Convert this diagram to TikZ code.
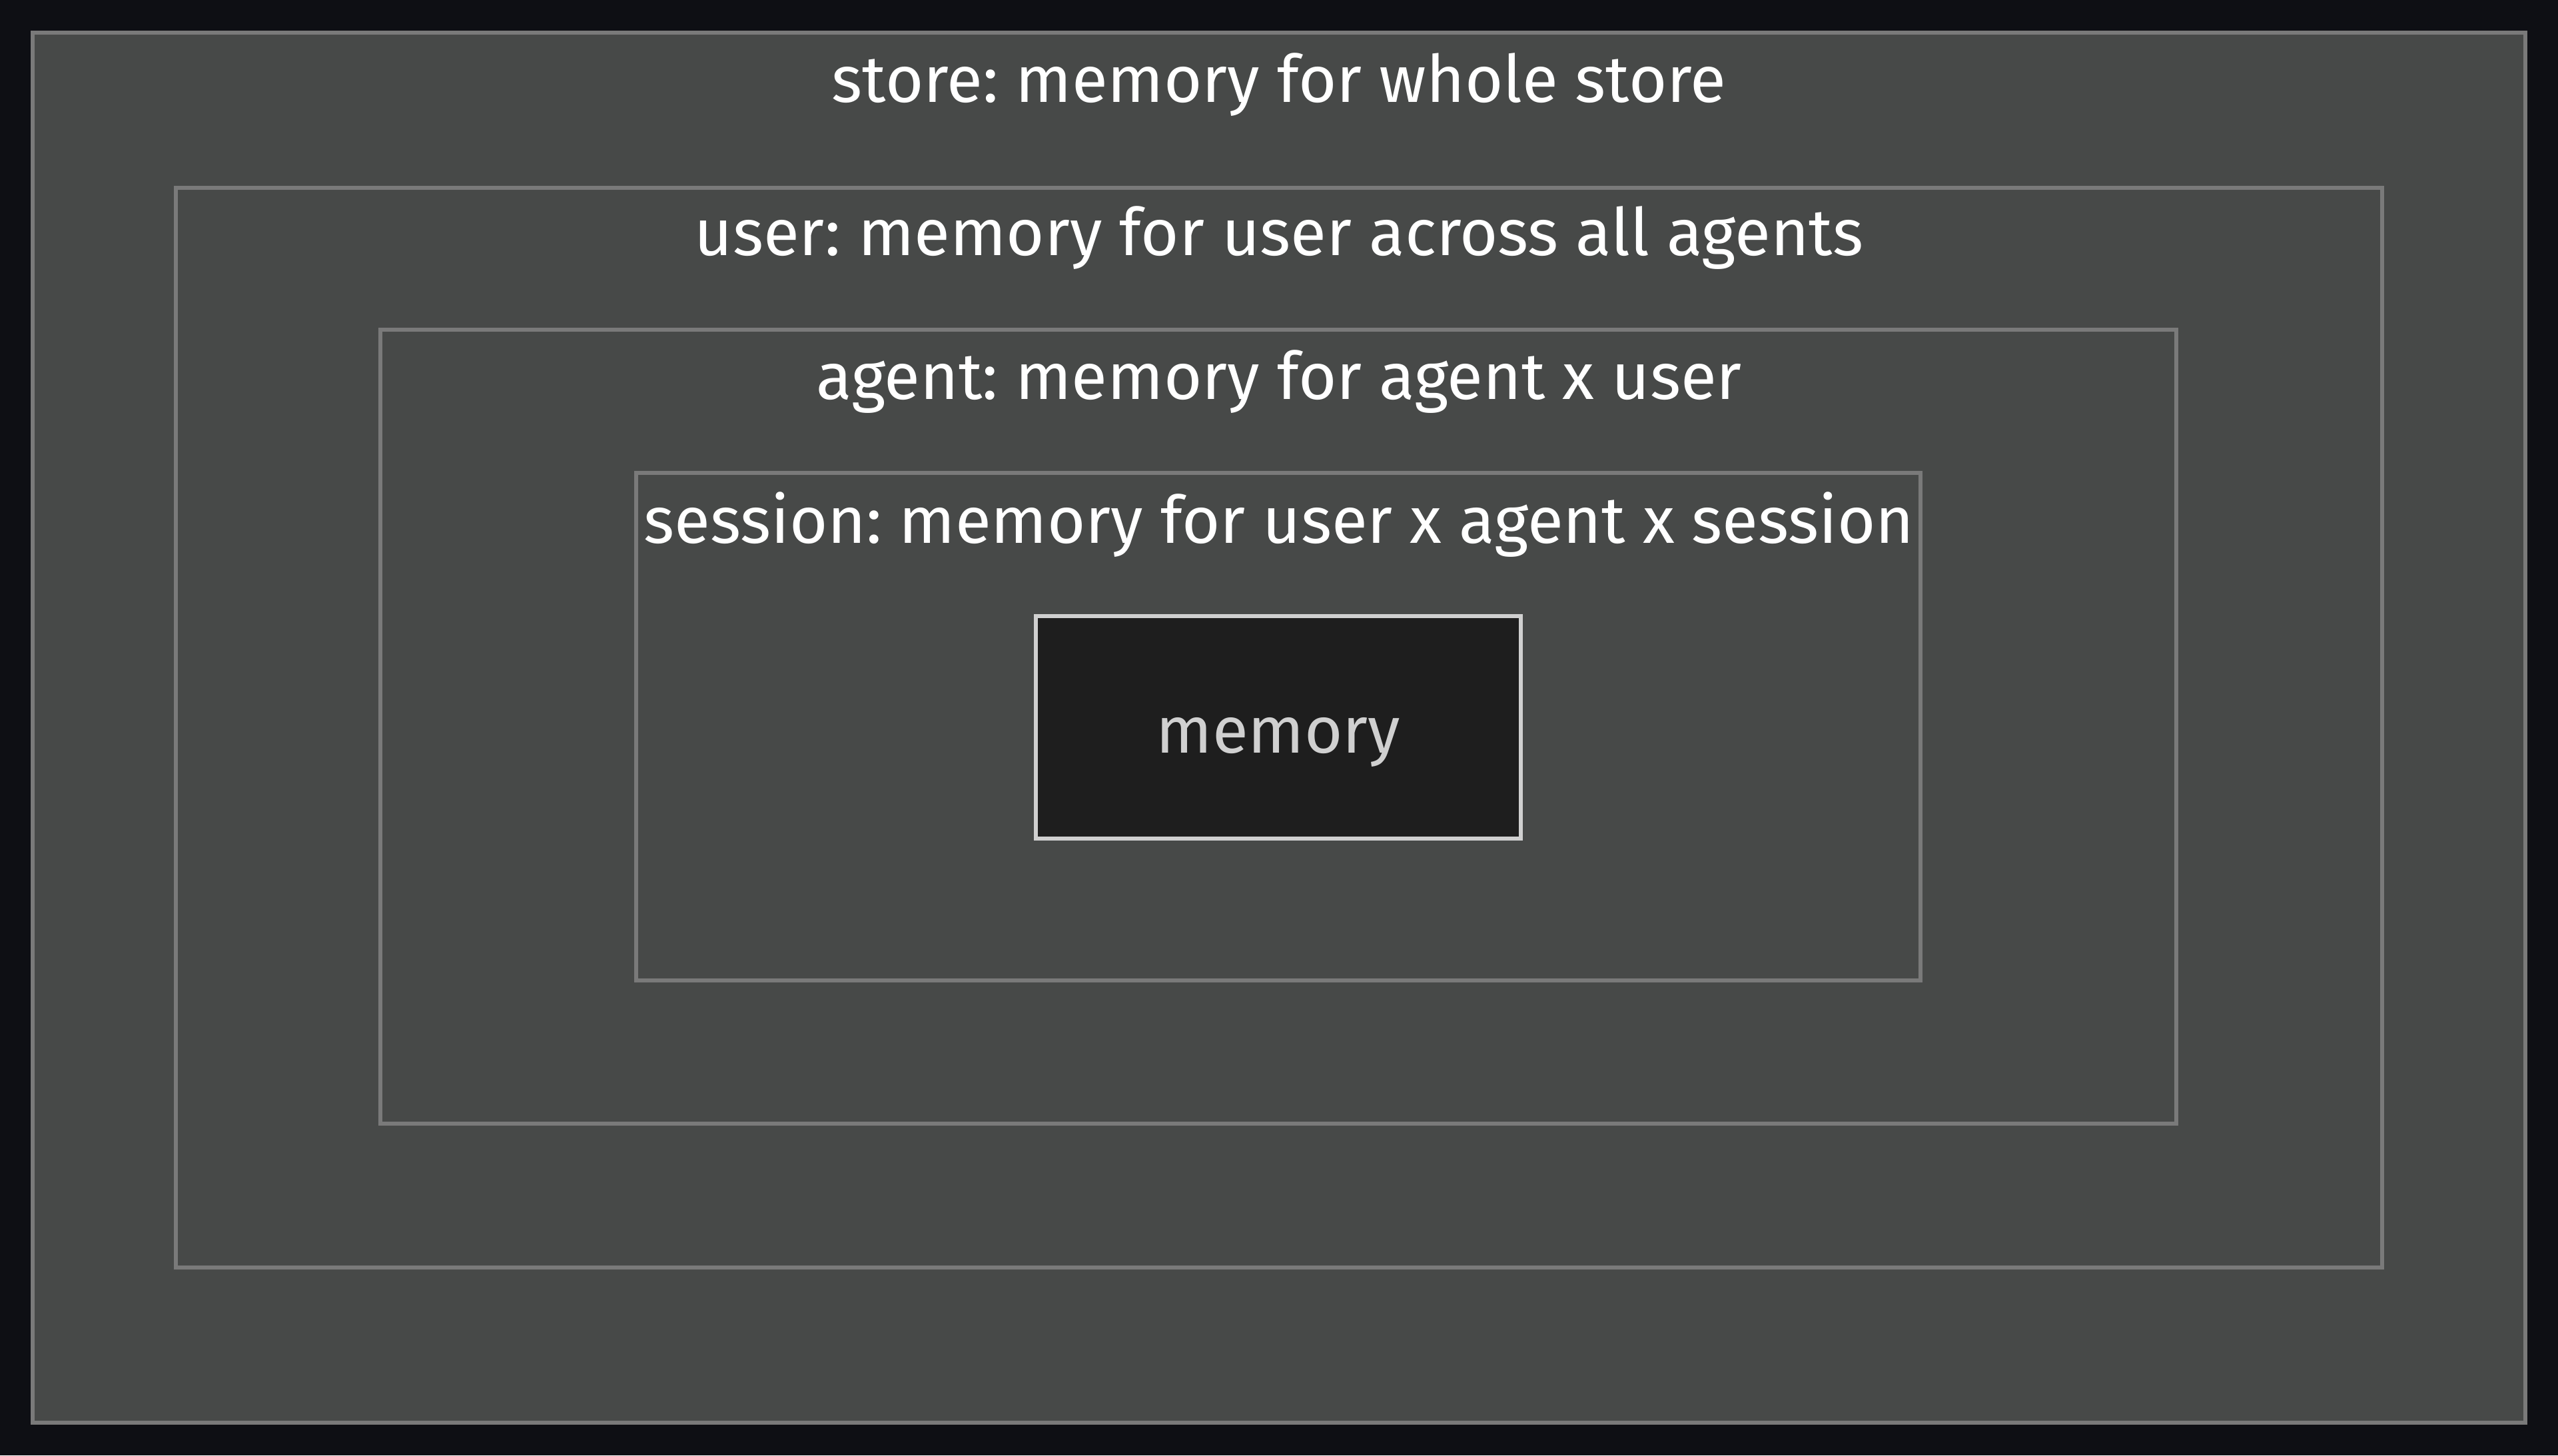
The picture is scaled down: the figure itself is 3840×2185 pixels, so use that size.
\documentclass[tikz,border=0pt]{standalone}
\usepackage{fontspec}
\setmainfont{Fira Sans}
\frenchspacing
\definecolor{fond}{HTML}{0E0F14}
\definecolor{gris}{HTML}{474948}
\definecolor{bord}{HTML}{7A7A7A}
\definecolor{noir}{HTML}{1E1E1E}
\definecolor{clair}{HTML}{D0D0D0}
\begin{document}
\begin{tikzpicture}[x=0.01cm, y=-0.01cm]
        \tikzstyle{cadre}=[draw=bord, fill=gris, line width=1.7pt];
        \tikzstyle{titre}=[text=white, font=\fontsize{28}{33}\selectfont, inner sep=0];

        \fill[fond] (0,0) rectangle (3840,2185);

        \foreach \nom/\xa/\ya/\xb/\yb/\yt/\texte in {
          store/49/49/3791/2136/127/store: memory for whole store,
          user/264/282/3576/1903/357/user: memory for user across all agents,
          agent/571/495/3267/1687/573/agent: memory for agent x user,
          session/955/710/2883/1472/788/session: memory for user x agent x session}{
          \draw[cadre] (\xa,\ya) rectangle (\xb,\yb);
          \node[titre] (\nom) at (1920,\yt) {\texte};
        }

        \node[draw=clair, fill=noir, line width=1.7pt, text=clair,
          minimum width=7.28cm, minimum height=3.33cm,
          text height=22pt, text depth=0pt,
          font=\fontsize{28}{33}\selectfont] (memory) at (1919,1092) {memory};
    \end{tikzpicture}
\end{document}
